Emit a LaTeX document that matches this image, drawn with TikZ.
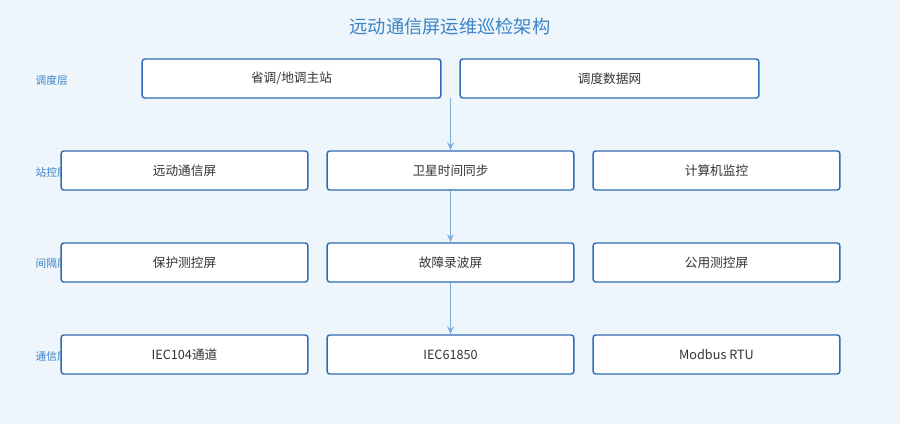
\documentclass[tikz,border=0pt]{standalone}
\usepackage{fontspec}
\setmainfont{Noto Sans CJK SC}
\usetikzlibrary{positioning,arrows.meta}
\definecolor{bgblue}{HTML}{EEF5FB}
\definecolor{boxline}{HTML}{2F6DB5}
\definecolor{titleblue}{HTML}{3A84C8}
\definecolor{arrowblue}{HTML}{7FB0DC}
\tikzset{
  box/.style={draw=boxline,line width=1.1pt,fill=white,rounded corners=2pt,
    minimum height=29.25pt,font=\fontsize{9.5}{11}\selectfont,text=black!80},
  wide/.style={box,minimum width=224pt},
  std/.style={box,minimum width=185pt},
  layer/.style={anchor=west,text=titleblue,font=\fontsize{8}{10}\selectfont},
  flow/.style={draw=arrowblue,line width=0.9pt,-{Stealth[length=6pt,width=5pt]}}
}
\begin{document}
\begin{tikzpicture}[x=0.75pt,y=-0.75pt]
  \fill[bgblue] (0,0) rectangle (900,424);
  \node[text=titleblue,font=\fontsize{13.7}{16}\selectfont] (title) at (450,27) {远动通信屏运维巡检架构};
  % layer labels
  \node[layer] (L1) at (31,80) {调度层};
  \node[layer] (L2) at (31,172) {站控层};
  \node[layer] (L3) at (31,264) {间隔层};
  \node[layer] (L4) at (31,356) {通信层};
  % rows
  \node[wide] (SD) at (291.5,78.5) {省调/地调主站};
  \node[wide] (NET) at (609.5,78.5) {调度数据网};
  \node[std] (YD) at (184.5,170.5) {远动通信屏};
  \node[std] (WX) at (450.5,170.5) {卫星时间同步};
  \node[std] (JK) at (716.5,170.5) {计算机监控};
  \node[std] (BH) at (184.5,262.5) {保护测控屏};
  \node[std] (GZ) at (450.5,262.5) {故障录波屏};
  \node[std] (GY) at (716.5,262.5) {公用测控屏};
  \node[std] (IEC104) at (184.5,354.5) {IEC104通道};
  \node[std] (IEC61850) at (450.5,354.5) {IEC61850};
  \node[std] (RTU) at (716.5,354.5) {Modbus RTU};
  \coordinate (top) at (450.5,98);
  \draw[flow] (top) -- (WX.north);
  \draw[flow] (WX) -- (GZ);
  \draw[flow] (GZ) -- (IEC61850);
\end{tikzpicture}
\end{document}
